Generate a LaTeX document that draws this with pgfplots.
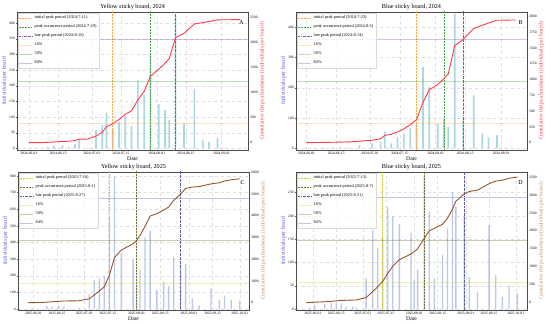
\documentclass[border=0pt]{standalone}
\usepackage{fontspec}
\setmainfont{Liberation Serif}
\usepackage{pgfplots}
\usepackage{pgfplotstable}
\pgfplotsset{compat=1.18}

\definecolor{barA}{RGB}{150,205,218}
\definecolor{barC}{RGB}{170,185,230}
\definecolor{cumred}{RGB}{255,60,70}
\definecolor{cumbrown}{RGB}{150,85,40}
\definecolor{lblue}{RGB}{80,80,240}
\definecolor{ltan}{RGB}{190,150,100}
\definecolor{vorange}{RGB}{255,165,60}
\definecolor{vgreen}{RGB}{60,160,60}
\definecolor{vpurple}{RGB}{140,80,180}
\definecolor{vyellow}{RGB}{205,205,40}
\definecolor{volive}{RGB}{110,110,40}
\definecolor{vblue}{RGB}{90,90,170}

\pgfplotstableread{
d n c
0 0 0
3 1 1
6 1 2
9 5 7
12 8 15
16 10 25
19 4 29
22 13 42
24 29 71
28 2 73
32 58 131
35 74 205
37 114 319
40 60 379
43 85 464
46 103 567
49 71 638
52 217 855
55 170 1025
58 302 1327
62 141 1468
65 122 1590
67 90 1680
70 424 2104
74 80 2184
79 190 2374
83 27 2401
86 21 2422
90 34 2456
94 2 2458
97 1 2459
101 0 2459
}\tabA

\pgfplotstableread{
d n c
0 1 1
4 1 2
8 2 4
12 2 6
16 3 9
20 3 12
25 11 23
31 16 39
35 22 61
37 55 116
40 16 132
43 38 170
46 49 219
49 66 285
52 80 365
55 269 634
58 203 837
62 82 919
65 99 1018
67 71 1089
70 445 1534
74 99 1633
79 175 1808
83 49 1857
86 36 1893
90 44 1937
94 2 1939
97 2 1941
99 0 1941
}\tabB

\pgfplotstableread{
d n c
-3 0 0
0 4 4
4 2 6
8 18 24
11 14 38
15 24 62
18 14 76
22 4 80
27 8 88
33 90 178
36 174 352
39 184 536
42 198 734
45 554 1288
48 794 2082
52 338 2420
59 294 2714
61 138 2852
63 234 3086
66 430 3516
69 470 3986
73 114 4100
77 164 4264
80 138 4402
83 314 4716
87 274 4990
90 270 5260
94 64 5324
98 20 5344
105 124 5468
110 54 5522
113 80 5602
117 54 5656
122 50 5706
}\tabC

\pgfplotstableread{
d n c
-4 0 0
-2 3 3
1 9 12
7 11 23
11 14 37
14 12 49
17 12 61
20 5 66
24 5 71
26 3 74
32 66 140
36 169 309
39 130 439
42 155 594
45 219 813
48 199 1012
52 182 1194
59 164 1358
61 62 1420
63 84 1504
67 287 1791
70 209 2000
73 66 2066
78 117 2183
81 173 2356
84 251 2607
86 219 2826
91 200 3026
94 69 3095
99 37 3132
106 180 3312
110 73 3385
114 26 3411
118 51 3462
123 34 3496
}\tabD

\pgfplotsset{
  panel/.style={scale only axis, width=231bp, height=138bp,
    tick label style={font=\fontsize{3.6}{4}\selectfont},
    label style={font=\fontsize{5.6}{6.5}\selectfont},
    /pgf/number format/assume math mode=true,
    /pgf/number format/set thousands separator={},
    tick align=outside, major tick length=1.2bp,
    tick style={gray!70!black, line width=0.3bp},
    axis line style={line width=0.4bp, gray!60!black},
    every tick label/.append style={inner sep=1bp},
  },
  leftax/.style={panel, ytick pos=left, xtick pos=bottom,
    grid=major, major grid style={dashed, gray!25, line width=0.3bp},
    ylabel style={text=lblue, inner sep=1bp},
    xlabel style={inner sep=1bp},
    title style={font=\fontsize{6.2}{7}\selectfont, inner sep=0.8bp, yshift=-5.2bp},
    xlabel=Date, ylabel=Individuals per board},
  rightax/.style={panel, axis y line*=right, axis x line=none,
    ylabel style={inner sep=1bp},
    ylabel=Cumulative thrips abundance (individuals per board),
    legend style={at={(0.004,0.996)}, anchor=north west,
      font=\fontsize{4.3}{5}\selectfont, draw=gray!30, fill=white,
      fill opacity=0.8, text opacity=1, inner sep=1bp, row sep=0.6bp,
      cells={anchor=west}},
    legend image code/.code={\draw[##1] (0bp,0bp) -- (13bp,0bp);}},
  xA/.style={xmin=-5.7, xmax=104.6, xtick={0,14,30,44,61,75,92},
    xticklabels={2024-06-01,2024-06-15,2024-07-01,2024-07-15,2024-08-01,2024-08-15,2024-09-01}},
  xB/.style={xmin=-5.0, xmax=104.2, xtick={0,14,30,44,61,75,92},
    xticklabels={2024-06-01,2024-06-15,2024-07-01,2024-07-15,2024-08-01,2024-08-15,2024-09-01}},
  xC/.style={xmin=-9.1, xmax=127.5, xtick={0,14,30,44,61,75,92,106,122},
    xticklabels={2025-06-01,2025-06-15,2025-07-01,2025-07-15,2025-08-01,2025-08-15,2025-09-01,2025-09-15,2025-10-01}},
  xD/.style={xmin=-10.2, xmax=128.8, xtick={0,14,30,44,61,75,92,106,122},
    xticklabels={2025-06-01,2025-06-15,2025-07-01,2025-07-15,2025-08-01,2025-08-15,2025-09-01,2025-09-15,2025-10-01}},
  vl/.style={line width=0.6bp, dash pattern=on 2bp off 1bp},
  vld/.style={line width=0.6bp, dash pattern=on 2bp off 0.8bp on 0.5bp off 0.8bp},
  hl/.style={line width=0.5bp, opacity=0.35},
}

\begin{document}
\begin{tikzpicture}
\useasboundingbox (0bp,0bp) rectangle (550bp,325bp);

% ---------------- A ----------------
\begin{axis}[leftax, xA, at={(17bp,175bp)}, anchor=south west, ymin=-5, ymax=435, ytick={0,50,...,400},
  title={Yellow sticky board, 2024}]
\addplot[ybar, bar width=0.8, fill=barA, draw=none, fill opacity=0.8] table[x=d,y=n] {\tabA};
\node[font=\fontsize{6}{7}\selectfont] at (rel axis cs:0.972,0.925) {A};
\end{axis}
\begin{axis}[rightax, xA, at={(17bp,175bp)}, anchor=south west, ymin=-146, ymax=2613, ytick={0,500,...,2500},
  ylabel style={text=cumred}]
\addplot[vorange, vl] coordinates {(40,-1e4) (40,1e4)};
\addlegendentry{initial peak period (2024-7-11)}
\addplot[vgreen, vl] coordinates {(58,-1e4) (58,1e4)};
\addlegendentry{peak occurrence period (2024-7-29)}
\addplot[vpurple, vld] coordinates {(70,-1e4) (70,1e4)};
\addlegendentry{late peak period (2024-8-10)}
\addplot[vorange, hl] coordinates {(-20,393.4) (200,393.4)};
\addlegendentry{16\%}
\addplot[vgreen, hl] coordinates {(-20,1229.5) (200,1229.5)};
\addlegendentry{50\%}
\addplot[vpurple, hl] coordinates {(-20,2065.6) (200,2065.6)};
\addlegendentry{84\%}
\addplot[cumred, line width=0.9bp, forget plot] table[x=d,y=c] {\tabA};
\end{axis}

% ---------------- B ----------------
\begin{axis}[leftax, xB, at={(296bp,175bp)}, anchor=south west, ymin=-5.5, ymax=450.5, ytick={0,100,...,400},
  title={Blue sticky board, 2024}]
\addplot[ybar, bar width=0.8, fill=barA, draw=none, fill opacity=0.8] table[x=d,y=n] {\tabB};
\node[font=\fontsize{6}{7}\selectfont] at (rel axis cs:0.972,0.925) {B};
\end{axis}
\begin{axis}[rightax, xB, at={(296bp,175bp)}, anchor=south west, ymin=-116, ymax=2068, ytick={0,250,...,2000},
  ylabel style={text=cumred}]
\addplot[vorange, vl] coordinates {(52,-1e4) (52,1e4)};
\addlegendentry{initial peak period (2024-7-23)}
\addplot[vgreen, vl] coordinates {(65,-1e4) (65,1e4)};
\addlegendentry{peak occurrence period (2024-8-5)}
\addplot[vpurple, vld] coordinates {(74,-1e4) (74,1e4)};
\addlegendentry{late peak period (2024-8-14)}
\addplot[vorange, hl] coordinates {(-20,310.6) (200,310.6)};
\addlegendentry{16\%}
\addplot[vgreen, hl] coordinates {(-20,970.5) (200,970.5)};
\addlegendentry{50\%}
\addplot[vpurple, hl] coordinates {(-20,1630.4) (200,1630.4)};
\addlegendentry{84\%}
\addplot[cumred, line width=0.9bp, forget plot] table[x=d,y=c] {\tabB};
\end{axis}

% ---------------- C ----------------
\begin{axis}[leftax, xC, at={(18bp,15bp)}, anchor=south west, ymin=-6, ymax=824, ytick={0,100,...,800},
  title={Yellow sticky board, 2025}]
\addplot[ybar, bar width=0.8, fill=barC, draw=none, fill opacity=0.8] table[x=d,y=n] {\tabC};
\node[font=\fontsize{6}{7}\selectfont] at (rel axis cs:0.972,0.925) {C};
\end{axis}
\begin{axis}[rightax, xC, at={(18bp,15bp)}, anchor=south west, ymin=-337, ymax=6018, ytick={0,1000,...,6000},
  ylabel style={text=ltan}]
\addplot[vyellow, vl] coordinates {(45,-1e5) (45,1e5)};
\addlegendentry{initial peak period (2025-7-16)}
\addplot[volive, vl] coordinates {(61,-1e5) (61,1e5)};
\addlegendentry{peak occurrence period (2025-8-1)}
\addplot[vblue, vld] coordinates {(87,-1e5) (87,1e5)};
\addlegendentry{late peak period (2025-8-27)}
\addplot[vyellow, hl] coordinates {(-20,913) (200,913)};
\addlegendentry{16\%}
\addplot[volive, hl] coordinates {(-20,2853) (200,2853)};
\addlegendentry{50\%}
\addplot[vblue, hl] coordinates {(-20,4793) (200,4793)};
\addlegendentry{84\%}
\addplot[cumbrown, line width=0.9bp, forget plot] table[x=d,y=c] {\tabC};
\end{axis}

% ---------------- D ----------------
\begin{axis}[leftax, xD, at={(296bp,15bp)}, anchor=south west, ymin=-2, ymax=294, ytick={0,50,...,250},
  title={Blue sticky board, 2025}]
\addplot[ybar, bar width=0.8, fill=barC, draw=none, fill opacity=0.8] table[x=d,y=n] {\tabD};
\node[font=\fontsize{6}{7}\selectfont] at (rel axis cs:0.972,0.925) {D};
\end{axis}
\begin{axis}[rightax, xD, at={(296bp,15bp)}, anchor=south west, ymin=-204, ymax=3639, ytick={0,500,...,3500},
  ylabel style={text=ltan}]
\addplot[vyellow, vl] coordinates {(42,-1e5) (42,1e5)};
\addlegendentry{initial peak period (2025-7-13)}
\addplot[volive, vl] coordinates {(67,-1e5) (67,1e5)};
\addlegendentry{peak occurrence period (2025-8-7)}
\addplot[vblue, vld] coordinates {(91,-1e5) (91,1e5)};
\addlegendentry{late peak period (2025-8-31)}
\addplot[vyellow, hl] coordinates {(-20,559.4) (200,559.4)};
\addlegendentry{16\%}
\addplot[volive, hl] coordinates {(-20,1748) (200,1748)};
\addlegendentry{50\%}
\addplot[vblue, hl] coordinates {(-20,2936.6) (200,2936.6)};
\addlegendentry{84\%}
\addplot[cumbrown, line width=0.9bp, forget plot] table[x=d,y=c] {\tabD};
\end{axis}
\end{tikzpicture}
\end{document}
